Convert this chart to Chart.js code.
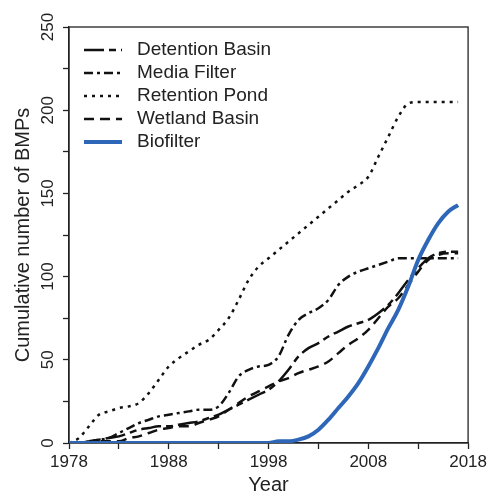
<!DOCTYPE html>
<html>
<head>
<meta charset="utf-8">
<script src="https://cdn.jsdelivr.net/npm/chart.js@4.4.0/dist/chart.umd.min.js"></script>
<style>
  html, body { margin: 0; padding: 0; background: #fff; }
</style>
</head>
<body>
<canvas id="bmpChart" width="490" height="495"></canvas>
<script>
// Cumulative number of BMPs per year
const years = [1978, 1979, 1980, 1981, 1982, 1983, 1984, 1985, 1986, 1987,
               1988, 1989, 1990, 1991, 1992, 1993, 1994, 1995, 1996, 1997,
               1998, 1999, 2000, 2001, 2002, 2003, 2004, 2005, 2006, 2007,
               2008, 2009, 2010, 2011, 2012, 2013, 2014, 2015, 2016, 2017];

const detentionBasin = [0, 0, 1, 2, 3, 4, 6, 8, 9, 10,
                        10, 11, 12, 13, 15, 17, 20, 23, 26, 29,
                        32, 37, 44, 52, 57, 60, 64, 67, 70, 72,
                        74, 78, 83, 90, 98, 105, 111, 114, 115, 115];
const mediaFilter = [0, 0, 1, 2, 3, 6, 9, 12, 14, 16,
                     17, 18, 19, 20, 20, 22, 30, 40, 44, 46,
                     47, 52, 65, 74, 78, 81, 86, 95, 100, 103,
                     105, 107, 109, 111, 111, 111, 111, 111, 111, 111];
const retentionPond = [0, 3, 10, 17, 19, 21, 22, 24, 30, 38,
                       46, 51, 55, 59, 62, 68, 75, 86, 98, 106,
                       111, 116, 121, 126, 131, 136, 141, 146, 151, 155,
                       160, 172, 184, 196, 204, 205, 205, 205, 205, 205];
const wetlandBasin = [0, 0, 0, 1, 1, 1, 3, 4, 6, 8,
                      9, 10, 10, 12, 14, 16, 20, 24, 28, 31,
                      34, 37, 39, 42, 44, 46, 49, 54, 59, 63,
                      68, 75, 82, 87, 95, 103, 110, 113, 114, 114];
const biofilter = [0, 0, 0, 0, 0, 0, 0, 0, 0, 0,
                   0, 0, 0, 0, 0, 0, 0, 0, 0, 0,
                   0, 1, 1, 2, 4, 8, 14, 21, 28, 36,
                   46, 57, 69, 80, 94, 110, 122, 132, 139, 143];

const seriesNames = ['Detention Basin', 'Media Filter', 'Retention Pond', 'Wetland Basin', 'Biofilter'];
const xTickLabels = ['1978', '1988', '1998', '2008', '2018'];
const yTickLabels = ['0', '50', '100', '150', '200', '250'];

const FONT = "'Liberation Sans', Arial, sans-serif";
const INK = '#222';

function toPoints(values) {
    return years.map((yr, i) => ({ x: yr, y: values[i] }));
}

function lineSet(label, values, dash, color, width, order) {
    return {
        label: label,
        data: toPoints(values),
        borderColor: color,
        borderWidth: width,
        borderDash: dash,
        pointRadius: 0,
        fill: false,
        cubicInterpolationMode: 'monotone',
        order: order
    };
}

// box around the plot area (top and right sides too)
const frame = {
    id: 'frame',
    beforeDatasetsDraw(chart) {
        const a = chart.chartArea, ctx = chart.ctx;
        ctx.save();
        ctx.strokeStyle = INK;
        ctx.lineWidth = 1.3;
        ctx.strokeRect(a.left, a.top, a.right - a.left, a.bottom - a.top);
        ctx.restore();
    }
};

// legend drawn in the upper left corner of the plot
const insideLegend = {
    id: 'insideLegend',
    afterDraw(chart) {
        const ctx = chart.ctx;
        const a = chart.chartArea;
        ctx.save();
        chart.data.datasets.forEach((ds, i) => {
            const y = a.top + 23 + i * 23;
            ctx.beginPath();
            ctx.setLineDash(ds.borderDash || []);
            ctx.strokeStyle = ds.borderColor;
            ctx.lineWidth = ds.borderWidth;
            ctx.moveTo(a.left + 15, y);
            ctx.lineTo(a.left + 53, y);
            ctx.stroke();
            ctx.setLineDash([]);
            ctx.fillStyle = INK;
            ctx.font = '19px ' + FONT;
            ctx.textBaseline = 'middle';
            ctx.fillText(ds.label, a.left + 68, y);
        });
        ctx.restore();
    }
};

const chart = new Chart(document.getElementById('bmpChart'), {
    type: 'line',
    data: {
        datasets: [
            lineSet(seriesNames[0], detentionBasin, [20, 5, 7, 5], '#111', 2.5, 1),
            lineSet(seriesNames[1], mediaFilter, [9, 4, 3, 4], '#111', 2.5, 2),
            lineSet(seriesNames[2], retentionPond, [3, 5], '#111', 2.5, 3),
            lineSet(seriesNames[3], wetlandBasin, [10, 6], '#111', 2.5, 4),
            lineSet(seriesNames[4], biofilter, [], '#2f67b8', 4, 0)
        ]
    },
    options: {
        responsive: false,
        animation: false,
        layout: { padding: { top: 27, right: 21, bottom: 0, left: 0 } },
        plugins: {
            legend: { display: false },
            tooltip: { enabled: false }
        },
        scales: {
            x: {
                type: 'linear',
                min: 1978,
                max: 2018,
                afterFit: s => { s.height = 52; },
                grid: { drawOnChartArea: false, tickLength: 6, color: INK, tickWidth: 1.3 },
                border: { color: INK, width: 1.3 },
                ticks: {
                    stepSize: 5,
                    autoSkip: false,
                    maxRotation: 0,
                    padding: 3,
                    color: INK,
                    font: { family: FONT, size: 17 },
                    callback: v => xTickLabels.includes(String(v)) ? String(v) : ''
                },
                title: {
                    display: true,
                    text: 'Year',
                    color: INK,
                    font: { family: FONT, size: 20, lineHeight: 1 },
                    padding: { top: 0, bottom: 0 }
                }
            },
            y: {
                min: 0,
                max: 250,
                afterFit: s => { s.width = 69; },
                grid: { drawOnChartArea: false, tickLength: 6, color: INK, tickWidth: 1.3 },
                border: { color: INK, width: 1.3 },
                ticks: {
                    stepSize: 25,
                    minRotation: 90,
                    maxRotation: 90,
                    crossAlign: 'center',
                    padding: 1,
                    color: INK,
                    font: { family: FONT, size: 17 },
                    callback: v => yTickLabels.includes(String(v)) ? String(v) : ''
                },
                title: {
                    display: true,
                    text: 'Cumulative number of BMPs',
                    color: INK,
                    font: { family: FONT, size: 20, lineHeight: 1 },
                    padding: { top: 13, bottom: 0 }
                }
            }
        }
    },
    plugins: [frame, insideLegend]
});
</script>
</body>
</html>
